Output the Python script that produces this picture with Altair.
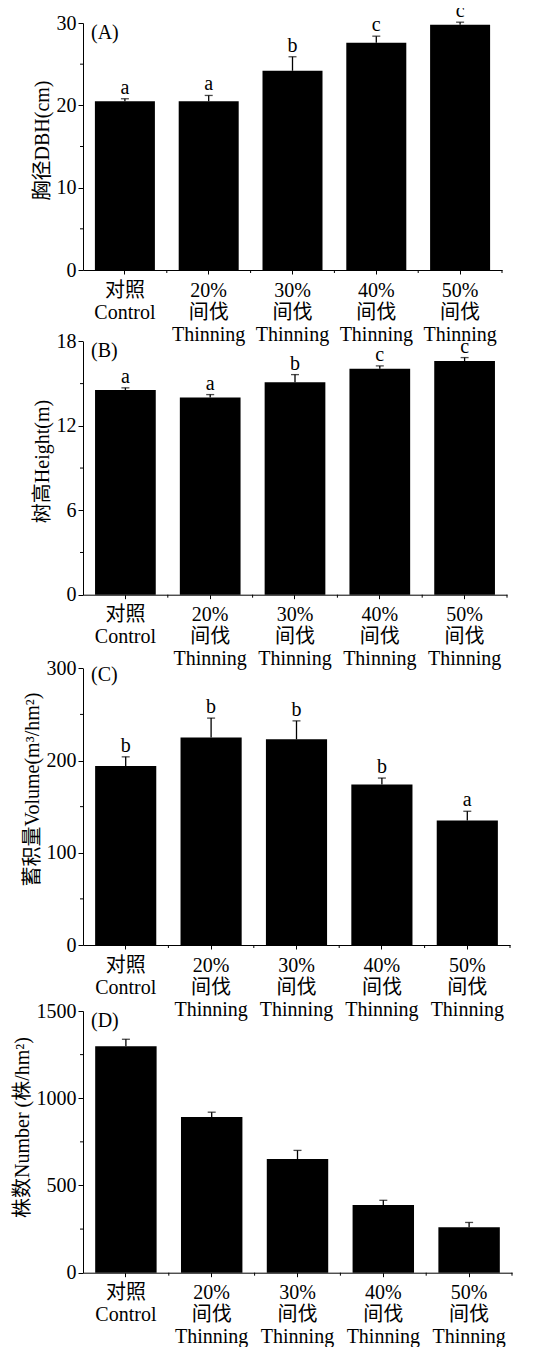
import altair as alt
import pandas as pd

FONT = "Liberation Serif, Noto Sans CJK SC"

categories = ["对照|Control", "20%|间伐|Thinning", "30%|间伐|Thinning",
              "40%|间伐|Thinning", "50%|间伐|Thinning"]

dbh_mean = [20.5, 20.5, 24.2, 27.6, 29.8]
dbh_err = [0.3, 0.7, 1.7, 0.8, 0.3]
dbh_letters = ["a", "a", "b", "c", "c"]

height_mean = [14.55, 14.02, 15.09, 16.06, 16.6]
height_err = [0.15, 0.2, 0.55, 0.2, 0.25]
height_letters = ["a", "a", "b", "c", "c"]

volume_mean = [194, 225, 223, 174, 135]
volume_err = [10, 21, 20, 7, 10]
volume_letters = ["b", "b", "b", "b", "a"]

number_mean = [1298, 893, 651, 388, 260]
number_err = [40, 27, 50, 27, 28]
number_letters = ["", "", "", "", ""]

ticks_A, minor_A = [0, 10, 20, 30], [5, 15, 25]
ticks_B, minor_B = [0, 6, 12, 18], [3, 9, 15]
ticks_C, minor_C = [0, 100, 200, 300], [50, 150, 250]
ticks_D, minor_D = [0, 500, 1000, 1500], [250, 750, 1250]

PI = 0.284


def panel(mean, err, letters, ticks, minor, ytitle, tag, w, h, extra, tag_y, title_y):
    df = pd.DataFrame({"cat": categories, "mean": mean, "err": err,
                       "top": [m + e for m, e in zip(mean, err)],
                       "letter": letters})
    H = h + extra
    step = w / 5.0
    xs = alt.Scale(domain=categories, paddingInner=PI, paddingOuter=PI / 2)
    ys = alt.Scale(domain=[ticks[0], ticks[-1]], nice=False, range=[H, extra])
    x = alt.X("cat:N", scale=xs, sort=categories,
              axis=alt.Axis(title=None, labelAngle=0,
                            labelExpr="split(datum.value, '|')",
                            labelFont=FONT, labelFontSize=20, labelColor="black",
                            labelLineHeight=22, labelPadding=6,
                            tickSize=4, tickColor="black", domainColor="black",
                            labelBaseline="top"))
    y = alt.Y("mean:Q", scale=ys,
              axis=alt.Axis(values=ticks, format="d", title=ytitle, titleFont=FONT,
                            titleFontSize=20, titleFontWeight="normal",
                            titleColor="black", titlePadding=4, titleY=title_y,
                            labelFont=FONT, labelFontSize=20, labelColor="black",
                            labelPadding=2, tickSize=5, tickColor="black",
                            domainColor="black", grid=False))
    base = alt.Chart(df)
    bars = base.mark_bar(color="black").encode(x=x, y=y)
    errline = base.mark_rule(color="black", strokeWidth=1.3).encode(
        x=alt.X("cat:N", sort=categories), y="mean:Q", y2="top:Q")
    cap = base.mark_tick(color="black", size=8, thickness=1.3).encode(
        x=alt.X("cat:N", sort=categories), y="top:Q")
    txt = base.mark_text(font=FONT, fontSize=20, color="black",
                         baseline="alphabetic", dy=-5).encode(
        x=alt.X("cat:N", sort=categories), y="top:Q", text="letter:N")
    mdf = pd.DataFrame({"v": minor})
    yminor = alt.Chart(mdf).mark_rule(color="black", strokeWidth=1).encode(
        y=alt.Y("v:Q", scale=ys), x=alt.value(0), x2=alt.value(-3))
    xminor = base.mark_rule(color="black", strokeWidth=1, xOffset=step / 2).encode(
        x=alt.X("cat:N", sort=categories), y=alt.value(H), y2=alt.value(H + 3))
    label = alt.Chart(pd.DataFrame({"t": [tag]})).mark_text(
        font=FONT, fontSize=20, color="black", align="left",
        baseline="middle").encode(x=alt.value(8), y=alt.value(extra + tag_y), text="t:N")
    return alt.layer(bars, errline, cap, txt, yminor, xminor, label).properties(
        width=w, height=H)


pA = panel(dbh_mean, dbh_err, dbh_letters, ticks_A, minor_A, "胸径DBH(cm)", "(A)",
           419, 247, 0, 10, 117)
pB = panel(height_mean, height_err, height_letters, ticks_B, minor_B, "树高Height(m)", "(B)",
           424, 253.3, 5.4, 10, 125)
pC = panel(volume_mean, volume_err, volume_letters, ticks_C, minor_C,
           "蓄积量Volume(m³/hm²)", "(C)", 427, 276.7, 7.3, 7, 128)
pD = panel(number_mean, number_err, number_letters, ticks_D, minor_D,
           "株数Number (株/hm²)", "(D)", 429, 261.7, 0, 9.5, 116)

chart = alt.vconcat(pA, pB, pC, pD, spacing=66, bounds="flush").properties(
    padding={"left": 4, "top": -7, "right": 0, "bottom": 0}
).configure_view(stroke=None).configure_axis(domainWidth=1, tickWidth=1)

chart.save("out.html", embed_options={"renderer": "svg", "actions": False})
